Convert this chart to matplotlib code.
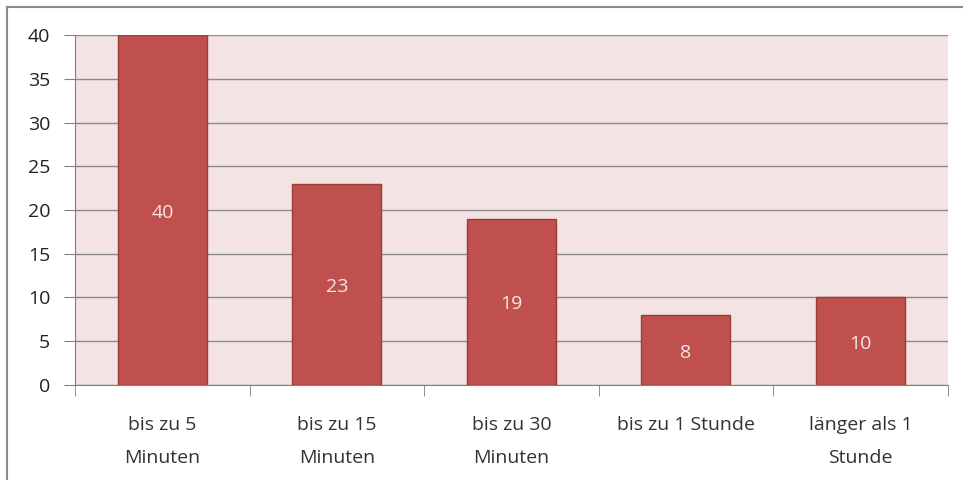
import matplotlib.pyplot as plt
import numpy as np

categories = ["bis zu 5\nMinuten", "bis zu 15\nMinuten", "bis zu 30\nMinuten",
              "bis zu 1 Stunde", "länger als 1\nStunde"]
values = [40, 23, 19, 8, 10]
y_ticks = [0, 5, 10, 15, 20, 25, 30, 35, 40]

plt.rcParams['font.family'] = ['Open Sans', 'DejaVu Sans']

fig = plt.figure(figsize=(9.63, 4.8), dpi=100)
ax = fig.add_axes([0.078, 0.198, 0.906, 0.729])

# outer chart border (only top and left visible in the crop)
fig.add_artist(plt.Line2D([7 / 963, 7 / 963], [0, 1 - 7 / 480], transform=fig.transFigure,
                          color='#8a8a8a', linewidth=1.5))
fig.add_artist(plt.Line2D([7 / 963, 1], [1 - 7 / 480, 1 - 7 / 480], transform=fig.transFigure,
                          color='#8a8a8a', linewidth=1.5))

ax.set_facecolor('#f3e3e3')
x = np.arange(len(categories))
bars = ax.bar(x, values, width=0.51, color='#c0504d', edgecolor='#9b3c39',
              linewidth=1, zorder=3)
for b, v in zip(bars, values):
    ax.text(b.get_x() + b.get_width() / 2, v / 2 - 0.3, str(v), ha='center', va='center',
            color='#f5e6e6', fontsize=14, zorder=4)

ax.set_xlim(-0.5, len(categories) - 0.5)
ax.set_ylim(0, 40)
ax.set_yticks(y_ticks)
ax.tick_params(axis='y', labelsize=14, length=8, color='#808080', pad=10,
               labelcolor='#222222')
ax.yaxis.grid(True, color='#8a8a8a', linewidth=1, zorder=1)

ax.set_xticks(x)
ax.set_xticklabels(categories, fontsize=14, linespacing=2.1, color='#333333')
ax.tick_params(axis='x', length=0, pad=22)
ax.set_xticks(np.arange(len(categories) + 1) - 0.5, minor=True)
ax.tick_params(axis='x', which='minor', length=8, color='#808080')

for s in ['top', 'right']:
    ax.spines[s].set_visible(False)
for s in ['left', 'bottom']:
    ax.spines[s].set_color('#808080')

fig.savefig('out.png', dpi=100)
